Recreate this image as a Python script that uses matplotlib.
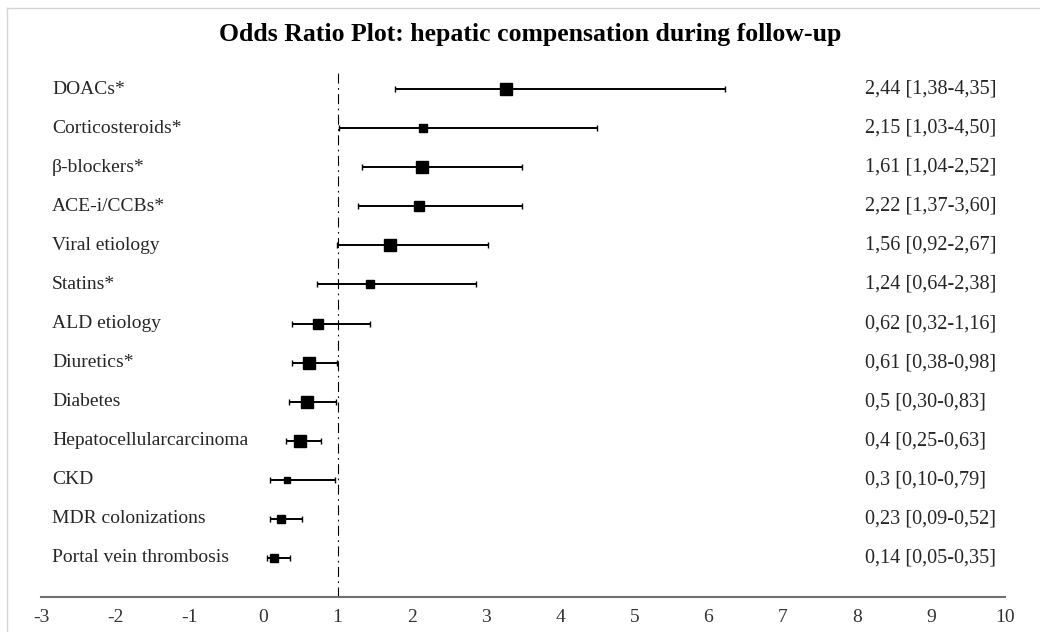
import matplotlib
matplotlib.use("Agg")
import matplotlib.pyplot as plt
from matplotlib.lines import Line2D
from matplotlib.transforms import blended_transform_factory

plt.rcParams["font.family"] = ["Liberation Serif", "DejaVu Serif"]
plt.rcParams["axes.unicode_minus"] = False

# data ------------------------------------------------------------
labels = ["DOACs*", "Corticosteroids*", "β-blockers*", "ACE-i/CCBs*",
          "Viral etiology", "Statins*", "ALD etiology", "Diuretics*",
          "Diabetes", "Hepatocellularcarcinoma", "CKD",
          "MDR colonizations", "Portal vein thrombosis"]
or_text = ["2,44 [1,38-4,35]", "2,15 [1,03-4,50]", "1,61 [1,04-2,52]",
           "2,22 [1,37-3,60]", "1,56 [0,92-2,67]", "1,24 [0,64-2,38]",
           "0,62 [0,32-1,16]", "0,61 [0,38-0,98]", "0,5 [0,30-0,83]",
           "0,4 [0,25-0,63]", "0,3 [0,10-0,79]", "0,23 [0,09-0,52]",
           "0,14 [0,05-0,35]"]
# positions as drawn in the plot
point = [3.27, 2.15, 2.14, 2.10, 1.71, 1.44, 0.73, 0.61, 0.59, 0.49, 0.32, 0.23, 0.14]
low = [1.77, 1.02, 1.33, 1.27, 0.99, 0.72, 0.38, 0.39, 0.34, 0.30, 0.09, 0.09, 0.05]
high = [6.23, 4.50, 3.49, 3.48, 3.03, 2.87, 1.43, 0.99, 0.98, 0.78, 0.96, 0.52, 0.36]
box_size = [8.0, 5.3, 9.1, 7.2, 9.1, 5.8, 6.5, 8.4, 9.1, 8.4, 4.8, 5.8, 5.8]
# -----------------------------------------------------------------

W, H = 1040, 632
fig = plt.figure(figsize=(W / 100, H / 100), dpi=100)
ax = fig.add_axes([41 / W, 1 - 597 / H, (1005 - 41) / W, (597 - 70) / H])

for i in range(len(labels)):
    ax.errorbar(point[i], i, xerr=[[point[i] - low[i]], [high[i] - point[i]]],
                fmt="s", color="black", ms=box_size[i], elinewidth=1.4,
                capsize=2.5, capthick=1.0)

ax.axvline(1, color="black", lw=0.8, linestyle=(0, (9, 4, 1.5, 4)), zorder=0)

ax.set_xlim(-3, 10)
ax.set_ylim(13, -0.49)
ax.set_xticks(range(-3, 11))
ax.set_yticks([])
ax.tick_params(axis="x", length=0, pad=9, labelsize=14, labelcolor="#333333")
for s in ["top", "right", "left"]:
    ax.spines[s].set_visible(False)
ax.spines["bottom"].set_color("#707070")
ax.spines["bottom"].set_linewidth(1.5)

tr = blended_transform_factory(fig.transFigure, ax.transData)
for i in range(len(labels)):
    ax.text(52 / W, i, labels[i], transform=tr, ha="left", va="center",
            fontsize=14, color="#262626")
    ax.text(865 / W, i, or_text[i], transform=tr, ha="left", va="center",
            fontsize=14.6, color="#262626")

fig.text(530 / W, 1 - 34 / H, "Odds Ratio Plot: hepatic compensation during follow-up",
         ha="center", va="center", fontsize=18.5, fontweight="bold", color="black")

# thin grey frame on top and left
fig.add_artist(Line2D([7 / W, 1], [1 - 8 / H, 1 - 8 / H], transform=fig.transFigure,
                      color="#d4d4d4", lw=1))
fig.add_artist(Line2D([7 / W, 7 / W], [0, 1 - 8 / H], transform=fig.transFigure,
                      color="#d4d4d4", lw=1))

fig.savefig("out.png", dpi=100)
